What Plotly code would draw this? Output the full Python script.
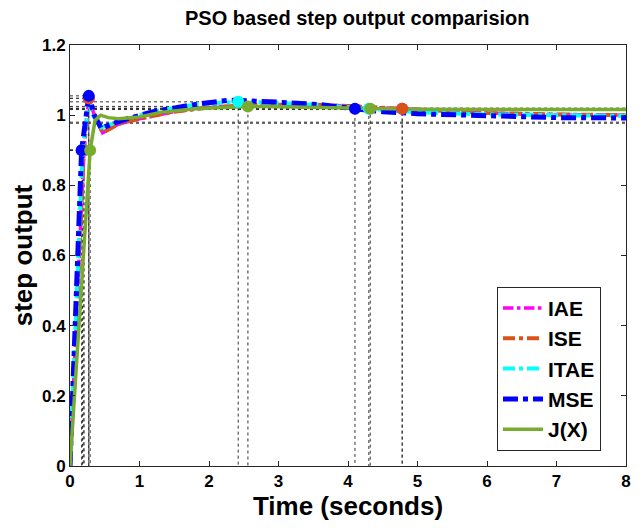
import plotly.graph_objects as go

# ---- data ----
series_names = ["IAE", "ISE", "ITAE", "MSE", "J(X)"]
series_colors = ["#FF00FF", "#D95319", "#00FFFF", "#0000FF", "#77AC30"]

t_iae = [0, 0.2, 0.27, 0.35, 0.47, 0.7, 1.0, 1.5, 2.0, 2.5, 3.0, 3.5, 4.0, 4.78, 5.5, 6.0, 7.0, 8.0]
y_iae = [0, 0.9, 1.048, 1.0, 0.95, 0.975, 0.99, 1.01, 1.022, 1.028, 1.03, 1.03, 1.026, 1.018, 1.01, 1.006, 1.002, 1.0]

t_ise = [0, 0.2, 0.27, 0.35, 0.47, 0.7, 1.0, 1.5, 2.0, 2.5, 3.0, 3.5, 4.0, 4.78, 5.5, 6.0, 7.0, 8.0]
y_ise = [0, 0.9, 1.048, 1.0, 0.95, 0.975, 0.99, 1.01, 1.022, 1.028, 1.03, 1.03, 1.026, 1.018, 1.01, 1.006, 1.002, 1.0]

t_itae = [0, 0.18, 0.27, 0.35, 0.45, 0.6, 0.83, 1.2, 1.8, 2.42, 3.0, 3.6, 4.3, 5.0, 6.0, 7.0, 8.0]
y_itae = [0, 0.9, 1.035, 0.99, 0.965, 0.975, 0.99, 1.01, 1.03, 1.038, 1.035, 1.028, 1.018, 1.008, 1.002, 0.999, 0.998]

t_mse = [0, 0.167, 0.27, 0.35, 0.45, 0.6, 0.83, 1.2, 1.78, 2.3, 3.0, 3.6, 4.1, 4.5, 5.0, 6.0, 7.0, 8.0]
y_mse = [0, 0.9, 1.055, 1.0, 0.962, 0.975, 0.99, 1.01, 1.03, 1.043, 1.037, 1.03, 1.018, 1.01, 1.004, 0.997, 0.993, 0.992]

t_jx = [0, 0.29, 0.36, 0.44, 0.55, 0.7, 1.0, 1.3, 1.8, 2.2, 2.56, 3.0, 3.5, 4.32, 5.0, 6.0, 8.0]
y_jx = [0, 0.9, 0.985, 1.0, 0.993, 0.99, 0.995, 1.008, 1.018, 1.022, 1.025, 1.024, 1.022, 1.018, 1.017, 1.016, 1.016]

# characteristic points (rise to 0.9, peak, settling) per series
rise_t = [0.2, 0.2, 0.18, 0.167, 0.29]
rise_y = [0.9, 0.9, 0.9, 0.9, 0.9]
peak_t = [0.27, 0.27, 2.42, 0.27, 2.56]
peak_y = [1.048, 1.048, 1.038, 1.055, 1.025]
settle_t = [4.78, 4.78, 4.3, 4.1, 4.32]
settle_y = [1.018, 1.018, 1.018, 1.018, 1.018]
band_levels = [1.02, 1.016, 0.98, 0.977]

x_ticks = [0, 1, 2, 3, 4, 5, 6, 7, 8]
x_tick_labels = ["0", "1", "2", "3", "4", "5", "6", "7", "8"]
y_ticks = [0, 0.2, 0.4, 0.6, 0.8, 1.0, 1.2]
y_tick_labels = ["0", "0.2", "0.4", "0.6", "0.8", "1", "1.2"]

curves_t = [t_iae, t_ise, t_itae, t_mse, t_jx]
curves_y = [y_iae, y_ise, y_itae, y_mse, y_jx]
dashes = ["dashdot", "dashdot", "dashdot", "dashdot", "solid"]
widths = [3.5, 4, 4, 5, 3.5]

fig = go.Figure()
ref_line = dict(color="#333333", width=1, dash="dot")

# settling bands across the full width
for lv in band_levels:
    fig.add_trace(go.Scatter(x=[x_ticks[0], x_ticks[-1]], y=[lv, lv], mode="lines",
                             line=ref_line, showlegend=False, hoverinfo="skip"))
# characteristic guide lines
for i in range(len(series_names)):
    for (tx, ty) in [(rise_t[i], rise_y[i]), (peak_t[i], peak_y[i]), (settle_t[i], settle_y[i])]:
        fig.add_trace(go.Scatter(x=[0, tx, tx], y=[ty, ty, 0], mode="lines",
                                 line=ref_line, showlegend=False, hoverinfo="skip"))

# response curves
for i, name in enumerate(series_names):
    fig.add_trace(go.Scatter(x=curves_t[i], y=curves_y[i], mode="lines", name="<b>" + name + "</b>",
                             line=dict(color=series_colors[i], width=widths[i], dash=dashes[i])))

# characteristic markers
for i, name in enumerate(series_names):
    fig.add_trace(go.Scatter(x=[rise_t[i], peak_t[i], settle_t[i]],
                             y=[rise_y[i], peak_y[i], settle_y[i]], mode="markers",
                             marker=dict(color=series_colors[i], size=12), showlegend=False,
                             hoverinfo="skip"))

font_family = "Liberation Sans, Arial, sans-serif"
axis_common = dict(showline=True, mirror="allticks", linecolor="#262626", linewidth=1,
                   ticks="inside", ticklen=5, tickcolor="#262626", showgrid=False,
                   zeroline=False, tickfont=dict(family=font_family, size=17, color="black"))

fig.update_layout(
    width=635, height=523,
    margin=dict(l=61, r=15, t=37, b=65),
    paper_bgcolor="white", plot_bgcolor="white",
    font=dict(family=font_family, color="black"),
    title=dict(text="<b>PSO based step output comparision</b>", x=0.55, xanchor="center",
               y=0.98, yanchor="middle", font=dict(size=20, family=font_family, color="black")),
    xaxis=dict(range=[0, 8], tickvals=x_ticks, ticktext=["<b>" + s + "</b>" for s in x_tick_labels],
               title=dict(text="<b>Time (seconds)</b>", font=dict(size=26), standoff=4),
               **axis_common),
    yaxis=dict(range=[0, 1.2], tickvals=y_ticks, ticktext=["<b>" + s + "</b>" for s in y_tick_labels],
               title=dict(text="<b>step output</b>", font=dict(size=26), standoff=4),
               **axis_common),
    legend=dict(x=0.955, y=0.036, xanchor="right", yanchor="bottom",
                bordercolor="#262626", borderwidth=1, bgcolor="white",
                font=dict(size=21, family=font_family, color="black"),
                itemwidth=40, tracegroupgap=0),
    showlegend=True,
)

fig.write_html("out.html")
